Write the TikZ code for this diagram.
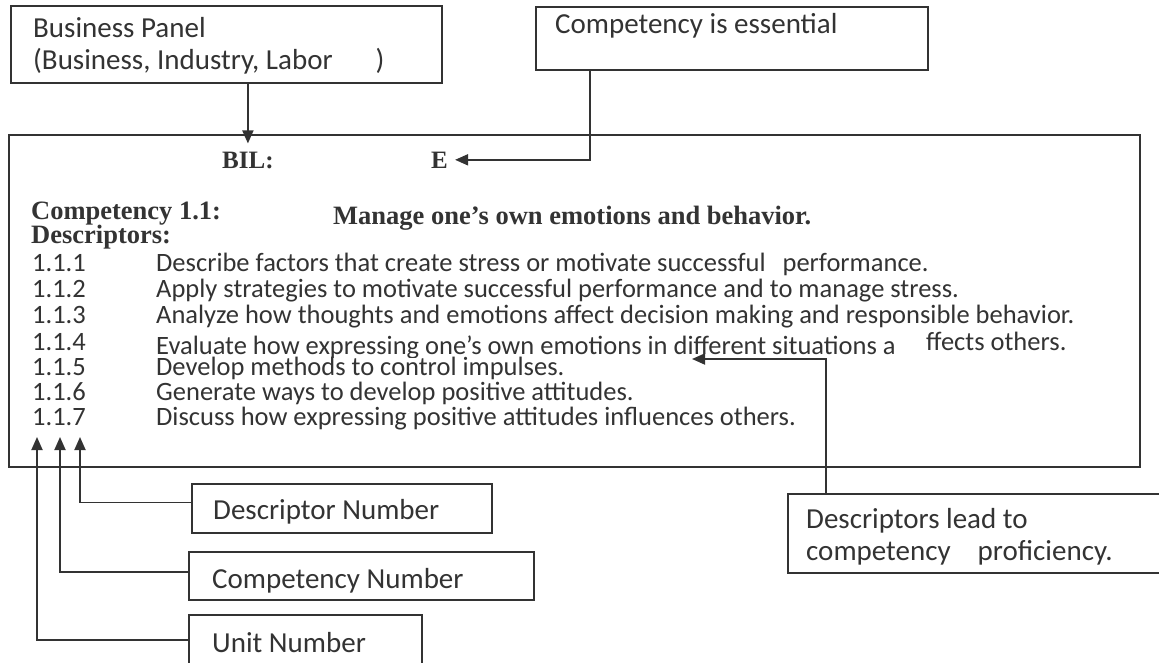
\documentclass[tikz,border=0pt]{standalone}
\usepackage{fontspec}
\setmainfont{Carlito}
\newfontfamily\tms{Liberation Serif}
\usetikzlibrary{arrows.meta}
\definecolor{ink}{HTML}{333333}
\begin{document}
\begin{tikzpicture}[x=1pt,y=-1pt,
  box/.style={draw=ink, line width=1.8pt, rectangle, inner sep=0pt, anchor=north west},
  lbl/.style={font=\fontsize{29}{32}\selectfont, text=ink, anchor=base west, inner sep=0pt},
  lst/.style={font=\fontsize{26.5}{26}\selectfont, text=ink, anchor=base west, inner sep=0pt},
  hd/.style={font=\tms\bfseries\fontsize{26.5}{26}\selectfont, text=ink, anchor=base west, inner sep=0pt},
  arr/.style={draw=ink, line width=1.8pt, -{Triangle[length=13pt,width=11pt]}}]
\useasboundingbox (0,0) rectangle (1159,662);
\fill[white] (0,0) rectangle (1159,662);

% boxes
\node[box, minimum width=431pt, minimum height=77pt] (bp) at (10,5) {};
\node[box, minimum width=392pt, minimum height=63pt] (ce) at (535,6) {};
\node[box, minimum width=1131pt, minimum height=332pt] (main) at (8,134) {};
\node[box, minimum width=300pt, minimum height=49pt] (dn) at (191,483) {};
\node[box, minimum width=345pt, minimum height=48pt] (cn) at (188,551) {};
\node[box, minimum width=233pt, minimum height=50pt] (un) at (188,614) {};
\node[box, minimum width=375pt, minimum height=79pt] (dl) at (787,493) {};

% box labels
\node[lbl] (bpt1) at (33,37) {Business Panel};
\node[lbl] (bpt2) at (33,69) {(Business, Industry, Labor\hspace{43pt})};
\node[lbl] (cet) at (555,33) {Competency is essential};
\node[lbl] (dnt) at (213,519) {Descriptor Number};
\node[lbl] (cnt) at (212,588) {Competency Number};
\node[lbl] (unt) at (212,652) {Unit Number};
\node[lbl] (dlt1) at (806,528) {Descriptors lead to};
\node[lbl] (dlt2) at (806,560) {competency\hspace{27pt}proficiency.};

% main box content
\node[hd, font=\tms\bfseries\fontsize{25}{26}\selectfont, inner ysep=8pt] (bil) at (222,168) {BIL:};
\node[hd, font=\tms\bfseries\fontsize{25}{26}\selectfont, inner xsep=7pt] (e) at (424,168) {E};
\node[hd] (comp) at (31,219) {Competency 1.1:};
\node[hd] (mng) at (333,224) {Manage one’s own emotions and behavior.};
\node[hd] (desc) at (31,243) {Descriptors:};

\node[lst] (n1) at (32,271.5) {1.1.1};
\node[lst] (n2) at (32,297.5) {1.1.2};
\node[lst] (n3) at (32,323.5) {1.1.3};
\node[lst] (n4) at (32,350.5) {1.1.4};
\node[lst] (n5) at (32,375.5) {1.1.5};
\node[lst] (n6) at (32,400.5) {1.1.6};
\node[lst] (n7) at (32,425.5) {1.1.7};

\node[lst] (d1) at (156,271.5) {Describe factors that create stress or motivate successful\hspace{17pt}performance.};
\node[lst] (d2) at (156,297.5) {Apply strategies to motivate successful performance and to manage stress.};
\node[lst] (d3) at (156,323.5) {Analyze how thoughts and emotions affect decision making and responsible behavior.};
\begin{scope}
\clip (150,325) rectangle (930,357);
\node[lst, text depth=0pt] (d4) at (156,354) {Evaluate how expressing one’s own emotions in different situations a};
\end{scope}
\node[lst] (d4b) at (926,350) {ffects others.};
\node[lst] (d5) at (156,375.5) {Develop methods to control impulses.};
\node[lst] (d6) at (156,400.5) {Generate ways to develop positive attitudes.};
\node[lst] (d7) at (156,425.5) {Discuss how expressing positive attitudes influences others.};

% connectors
\draw[arr] (bp.south -| bil.north) -- (bil.north);
\draw[arr] ([xshift=55pt]ce.south west) |- (e.east);

\coordinate (t4) at (692,359);
\draw[arr] ([xshift=39pt]dl.north west) |- (t4);

\coordinate (tu) at (37,437);
\coordinate (tc) at (60,437);
\coordinate (td) at (80,437);
\draw[arr] ([yshift=6pt]dn.west) -| (td);
\draw[arr] ([yshift=4pt]cn.west) -| (tc);
\draw[arr] (un.west) -| (tu);
\end{tikzpicture}
\end{document}
